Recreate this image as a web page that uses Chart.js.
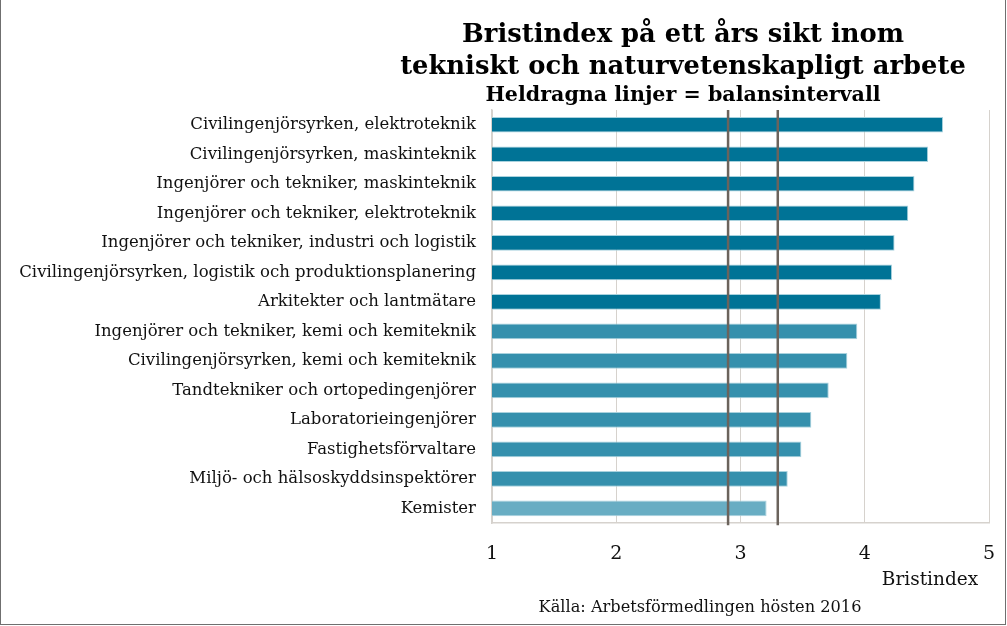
<!DOCTYPE html>
<html>
<head>
<meta charset="utf-8">
<script src="https://cdn.jsdelivr.net/npm/chart.js@4/dist/chart.umd.min.js"></script>
<style>
  html, body { margin: 0; padding: 0; background: #fff; }
  #wrap { position: relative; width: 1007px; height: 626px; }
  #frame { position: absolute; left: 0; top: 0; width: 1004px; height: 624px;
           border-left: 1px solid #6f6f6f; border-right: 1px solid #6f6f6f;
           border-bottom: 1px solid #6f6f6f; pointer-events: none; }
  canvas { position: absolute; left: 0; top: 0; }
  .txt { position: absolute; white-space: nowrap; font-family: "DejaVu Serif", serif;
         color: #000; transform: translateX(-50%); }
  .title { font-weight: bold; font-size: 25.8px; }
  .sub { font-weight: bold; font-size: 20.6px; }
</style>
</head>
<body>
<div id="wrap">
  <canvas id="chart" width="1007" height="626"></canvas>
  <div class="txt title" style="left:683px; top:18px;">Bristindex på ett års sikt inom</div>
  <div class="txt title" style="left:683px; top:50px;">tekniskt och naturvetenskapligt arbete</div>
  <div class="txt sub" style="left:683px; top:82px;">Heldragna linjer = balansintervall</div>
  <div class="txt" style="left:930px; top:568px; font-size:18.5px; color:#111;">Bristindex</div>
  <div class="txt" style="left:700px; top:597px; font-size:16.2px; color:#111;">Källa: Arbetsförmedlingen hösten 2016</div>
  <div id="frame"></div>
</div>
<script>
// ==========================
// DATA
// ==========================
var yrken = [
  'Civilingenjörsyrken, elektroteknik',
  'Civilingenjörsyrken, maskinteknik',
  'Ingenjörer och tekniker, maskinteknik',
  'Ingenjörer och tekniker, elektroteknik',
  'Ingenjörer och tekniker, industri och logistik',
  'Civilingenjörsyrken, logistik och produktionsplanering',
  'Arkitekter och lantmätare',
  'Ingenjörer och tekniker, kemi och kemiteknik',
  'Civilingenjörsyrken, kemi och kemiteknik',
  'Tandtekniker och ortopedingenjörer',
  'Laboratorieingenjörer',
  'Fastighetsförvaltare',
  'Miljö- och hälsoskyddsinspektörer',
  'Kemister'
];
var bristindex = [4.63, 4.51, 4.40, 4.35, 4.24, 4.22, 4.13, 3.94, 3.86, 3.71, 3.57, 3.49, 3.38, 3.21];
var balansintervall = [2.9, 3.3];
var xTicks = [1, 2, 3, 4, 5];

// färger per stapel
var barColors = [
  '#007396', '#007396', '#007396', '#007396', '#007396', '#007396', '#007396',
  '#3590ad', '#3590ad', '#3590ad', '#3590ad', '#3590ad', '#3590ad',
  '#68adc3'
];

// ==========================
// BALANSLINJER
// ==========================
var balansPlugin = {
  id: 'balans',
  afterDatasetsDraw: function(chart) {
    var ctx = chart.ctx;
    var area = chart.chartArea;
    var xs = chart.scales.x;
    ctx.save();
    ctx.strokeStyle = '#6b635c';
    ctx.lineWidth = 2.5;
    balansintervall.forEach(function(v) {
      var px = xs.getPixelForValue(v);
      ctx.beginPath();
      ctx.moveTo(px, area.top);
      ctx.lineTo(px, area.bottom + 2);
      ctx.stroke();
    });
    ctx.restore();
  }
};

// ==========================
// GRAF
// ==========================
new Chart(document.getElementById('chart'), {
  type: 'bar',
  data: {
    labels: yrken,
    datasets: [{
      data: bristindex,
      backgroundColor: barColors,
      borderColor: '#a9d2de',
      borderWidth: 1,
      barPercentage: 0.53,
      categoryPercentage: 1
    }]
  },
  options: {
    indexAxis: 'y',
    responsive: false,
    animation: false,
    layout: { padding: { top: 110, right: 18, bottom: 61, left: 0 } },
    plugins: {
      legend: { display: false },
      tooltip: { enabled: false }
    },
    scales: {
      x: {
        type: 'linear',
        min: 1,
        max: 5,
        afterBuildTicks: function(axis) {
          axis.ticks = xTicks.map(function(v) { return { value: v }; });
        },
        // osynliga tickstreck ger avståndet ned till siffrorna
        grid: { color: '#d6d2cd', lineWidth: 1, drawTicks: true, tickLength: 19, tickColor: 'rgba(0,0,0,0)' },
        border: { display: true, color: '#d6d2cd', width: 1.5 },
        ticks: { padding: 0, color: '#111', font: { family: 'DejaVu Serif', size: 19 } }
      },
      y: {
        afterFit: function(axis) { axis.width = 492; },
        grid: { display: false, drawTicks: false },
        border: { display: true, color: '#d6d2cd', width: 1.5 },
        ticks: { padding: 16, color: '#111', font: { family: 'DejaVu Serif', size: 16.5 } }
      }
    }
  },
  plugins: [balansPlugin]
});
</script>
</body>
</html>
